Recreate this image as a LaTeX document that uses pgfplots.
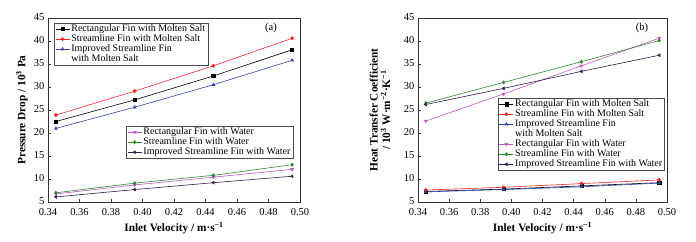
\documentclass[border=0pt]{standalone}
\usepackage{pgfplots}
\pgfplotsset{compat=1.18}
\usepackage{fontspec}
\setmainfont{Liberation Serif}
\definecolor{cred}{HTML}{F02828}
\definecolor{cblue}{HTML}{3344B0}
\definecolor{cmag}{HTML}{C455C4}
\definecolor{cgreen}{HTML}{2A8A2A}
\definecolor{cpurp}{HTML}{2E1A50}
\pgfplotsset{
  base/.style={
    scale only axis, height=184pt,
    xmin=0.34, xmax=0.50, ymin=5, ymax=45,
    xtick={0.34,0.36,0.38,0.40,0.42,0.44,0.46,0.48,0.50},
    ytick={5,10,15,20,25,30,35,40,45},
    xticklabel style={yshift=-2.5pt, /pgf/number format/.cd, fixed, fixed zerofill, precision=2},
    yticklabel style={yshift=0.8pt},
    /pgf/number format/assume math mode=true,
    tick label style={font=\fontsize{10.5}{12}\selectfont},
    tick pos=left, tick align=inside, major tick length=3pt,
    axis line style={line width=0.7pt, black!80},
    every tick/.style={black!80, line width=0.5pt},
    label style={font=\bfseries\fontsize{11.3}{12.5}\selectfont},
    xlabel style={at={(axis description cs:0.5,-0.14)}, anchor=center},
    legend cell align=left,
    legend style={draw=black!70, line width=0.4pt, fill=white, inner sep=1pt,
      font=\fontsize{10}{10}\selectfont, row sep=0pt,
      nodes={inner ysep=0pt, inner xsep=1.5pt, text height=7.2pt, text depth=2.8pt}},
    legend image code/.code={\draw[mark repeat=2,mark phase=2] plot coordinates {(0pt,0pt)(7pt,0pt)(14pt,0pt)};},
    every axis plot/.append style={line width=0.6pt, mark size=1.6pt},
  },
  pA/.style={black, mark=square*, mark options={fill=black}},
  pB/.style={cred, mark=*, mark options={fill=cred}},
  pC/.style={cblue, mark=triangle*, mark options={fill=cblue}},
  pD/.style={cmag, mark=triangle*, mark options={fill=cmag, rotate=180}},
  pE/.style={cgreen, mark=diamond*, mark options={fill=cgreen}},
  pF/.style={cpurp, mark=triangle*, mark options={fill=cpurp, rotate=90}},
}
\begin{document}
\begin{tikzpicture}[x=1pt,y=1pt]
\useasboundingbox (0,0) rectangle (696,241);
% ---------- (a) molten salt ----------
\begin{axis}[base, at={(48pt,39pt)}, anchor=south west, width=252pt,
  xlabel={Inlet Velocity / m·s\textsuperscript{\char"2212 1}},
  ylabel={Pressure Drop / 10\textsuperscript{3} Pa},
  ylabel style={at={(axis description cs:-0.103,0.5)}, anchor=center},
  legend style={at={(axis description cs:0.024,0.973)}, anchor=north west}]
\addplot[pA] coordinates {(0.345,22.5)(0.395,27.2)(0.445,32.4)(0.495,38.1)};
\addlegendentry{Rectangular Fin with Molten Salt}
\addplot[pB] coordinates {(0.345,23.9)(0.395,29.1)(0.445,34.6)(0.495,40.6)};
\addlegendentry{Streamline Fin with Molten Salt}
\addplot[pC] coordinates {(0.345,21.0)(0.395,25.6)(0.445,30.5)(0.495,35.8)};
\addlegendentry{Improved Streamline Fin}
\addlegendimage{empty legend}
\addlegendentry{with Molten Salt}
\node at (axis description cs:0.885,0.946) {\fontsize{10.5}{12}\selectfont (a)};
\end{axis}
% ---------- (a) water ----------
\begin{axis}[base, at={(48pt,39pt)}, anchor=south west, width=252pt, hide axis,
  legend style={at={(axis description cs:0.31,0.413)}, anchor=north west}]
\addplot[pD] coordinates {(0.345,6.75)(0.395,8.7)(0.445,10.4)(0.495,12.1)};
\addlegendentry{Rectangular Fin with Water}
\addplot[pE] coordinates {(0.345,7.0)(0.395,9.1)(0.445,10.8)(0.495,13.1)};
\addlegendentry{Streamline Fin with Water}
\addplot[pF] coordinates {(0.345,6.1)(0.395,7.7)(0.445,9.2)(0.495,10.6)};
\addlegendentry{Improved Streamline Fin with Water}
\end{axis}
% ---------- (b) ----------
\begin{axis}[base, at={(418pt,39pt)}, anchor=south west, width=249pt,
  xlabel={Inlet Velocity / m·s\textsuperscript{\char"2212 1}},
  ylabel={Heat Transfer Coefficient\\/ 10\textsuperscript{3} W·m\textsuperscript{\char"2212 2}·K\textsuperscript{\char"2212 1}},
  ylabel style={at={(axis description cs:-0.153,0.5)}, anchor=center, align=center},
  legend style={at={(axis description cs:0.321,0.565)}, anchor=north west}]
\addplot[pA] coordinates {(0.345,7.3)(0.395,7.8)(0.445,8.5)(0.495,9.2)};
\addlegendentry{Rectangular Fin with Molten Salt}
\addplot[pB] coordinates {(0.345,7.6)(0.395,8.2)(0.445,9.0)(0.495,9.8)};
\addlegendentry{Streamline Fin with Molten Salt}
\addplot[pC] coordinates {(0.345,7.2)(0.395,7.7)(0.445,8.3)(0.495,9.1)};
\addlegendentry{Improved Streamline Fin}
\addlegendimage{empty legend}
\addlegendentry{with Molten Salt}
\addplot[pD] coordinates {(0.345,22.6)(0.395,28.5)(0.445,34.6)(0.495,40.6)};
\addlegendentry{Rectangular Fin with Water}
\addplot[pE] coordinates {(0.345,26.5)(0.395,31.0)(0.445,35.5)(0.495,40.1)};
\addlegendentry{Streamline Fin with Water}
\addplot[pF] coordinates {(0.345,26.2)(0.395,29.7)(0.445,33.4)(0.495,36.9)};
\addlegendentry{Improved Streamline Fin with Water}
\node at (axis description cs:0.9,0.946) {\fontsize{10.5}{12}\selectfont (b)};
\end{axis}
\end{tikzpicture}
\end{document}
